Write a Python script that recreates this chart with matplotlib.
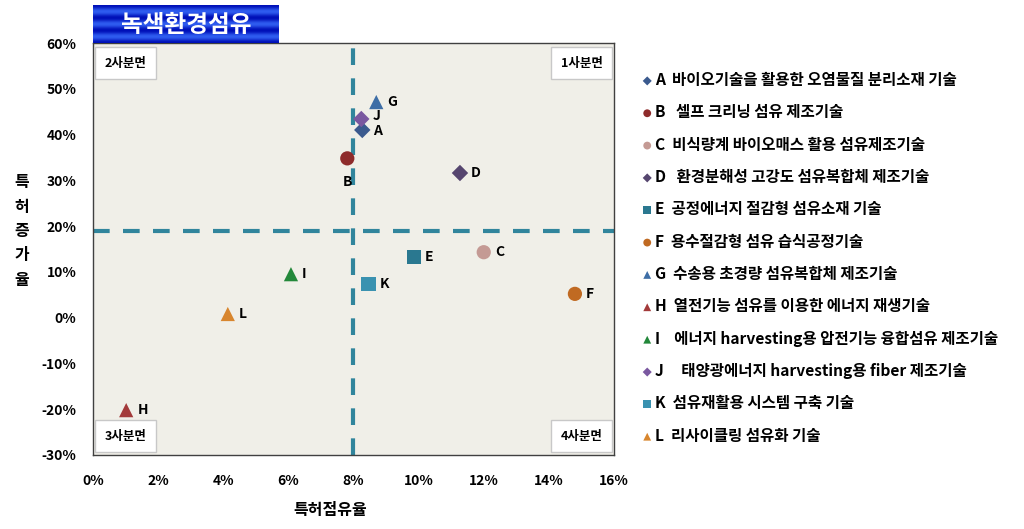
import matplotlib.pyplot as plt
import numpy as np

plt.rcParams['font.family'] = ['Noto Sans CJK KR', 'DejaVu Sans']

codes = ['A', 'B', 'C', 'D', 'E', 'F', 'G', 'H', 'I', 'J', 'K', 'L']
names = ['바이오기술을 활용한 오염물질 분리소재 기술',
         ' 셀프 크리닝 섬유 제조기술',
         '비식량계 바이오매스 활용 섬유제조기술',
         ' 환경분해성 고강도 섬유복합체 제조기술',
         '공정에너지 절감형 섬유소재 기술',
         '용수절감형 섬유 습식공정기술',
         '수송용 초경량 섬유복합체 제조기술',
         '열전기능 섬유를 이용한 에너지 재생기술',
         '  에너지 harvesting용 압전기능 융합섬유 제조기술',
         '   태양광에너지 harvesting용 fiber 제조기술',
         '섬유재활용 시스템 구축 기술',
         '리사이클링 섬유화 기술']
share = [8.27, 7.81, 12.0, 11.27, 9.85, 14.8, 8.7, 1.02, 6.08, 8.24, 8.46, 4.14]
growth = [41.0, 34.8, 14.3, 31.6, 13.2, 5.2, 47.1, -20.2, 9.5, 43.4, 7.3, 0.8]
markers = ['D', 'o', 'o', 'D', 's', 'o', '^', '^', '^', 'D', 's', '^']
colors = ['#3b5a8e', '#8e2b2b', '#c49a94', '#56466f', '#2a7890', '#c06a22',
          '#3e6ea6', '#a33a3a', '#23883a', '#7a58a0', '#3a92b0', '#d8862e']
x_center = 8
y_center = 19

fig = plt.figure(figsize=(10.24, 5.29), dpi=100)
ax = fig.add_axes([0.0908, 0.1399, 0.5088, 0.7788])
ax.set_facecolor('#f0efe8')
for s in ax.spines.values():
    s.set_color('#404040')
    s.set_linewidth(1.0)

ax.axvline(x_center, color='#31859c', lw=3, dashes=(4, 3.2), zorder=1)
ax.axhline(y_center, color='#31859c', lw=3, dashes=(4, 3.2), zorder=1)

handles = []
for i in range(len(codes)):
    sz = 70 if markers[i] == 'D' else 105
    h = ax.scatter(share[i], growth[i], marker=markers[i], s=sz, c=colors[i],
                   edgecolors='none', zorder=3)
    handles.append(h)
    if codes[i] == 'B':
        off, ha = (0, -17), 'center'
    elif codes[i] == 'J':
        off, ha = (8, 2), 'left'
    elif codes[i] == 'A':
        off, ha = (8, -1), 'left'
    else:
        off, ha = (8, 0), 'left'
    ax.annotate(codes[i], (share[i], growth[i]), xytext=off,
                textcoords='offset points', ha=ha, va='center',
                fontsize=10, fontweight='bold')

ax.set_xlim(0, 16)
ax.set_ylim(-30, 60)
ax.set_xticks(np.arange(0, 17, 2))
ax.set_xticklabels([f'{v}%' for v in range(0, 17, 2)])
ax.set_yticks(np.arange(-30, 61, 10))
ax.set_yticklabels([f'{v}%' for v in range(-30, 61, 10)])
ax.tick_params(length=0, labelsize=10)
ax.tick_params(axis='x', pad=14)
ax.tick_params(axis='y', pad=12)
for t in ax.get_xticklabels() + ax.get_yticklabels():
    t.set_fontweight('bold')

box = dict(boxstyle='square,pad=0.75', fc='white', ec='#c8c8c8', lw=1)
ax.text(0.022, 0.967, '2사분면', transform=ax.transAxes, ha='left', va='top',
        fontsize=9, fontweight='bold', bbox=box)
ax.text(0.978, 0.967, '1사분면', transform=ax.transAxes, ha='right', va='top',
        fontsize=9, fontweight='bold', bbox=box)
ax.text(0.022, 0.03, '3사분면', transform=ax.transAxes, ha='left', va='bottom',
        fontsize=9, fontweight='bold', bbox=box)
ax.text(0.978, 0.03, '4사분면', transform=ax.transAxes, ha='right', va='bottom',
        fontsize=9, fontweight='bold', bbox=box)

fig.text(330 / 1024, 1 - 510 / 529, '특허점유율', ha='center', va='center',
         fontsize=11.5, fontweight='bold')
fig.text(22 / 1024, 1 - 231 / 529, '\n'.join('특허증가율'), ha='center',
         va='center', fontsize=11.5, fontweight='bold', linespacing=1.65)

# title box with blue stripes
grad = np.abs(np.sin(np.linspace(0, 3 * np.pi, 80)))[:, None] ** 2
cmap = plt.matplotlib.colors.LinearSegmentedColormap.from_list(
    'b', ['#0010b8', '#2f5cf0'])
tax = fig.add_axes([93 / 1024, 1 - 43 / 529, 186 / 1024, 38 / 529])
tax.imshow(grad, aspect='auto', cmap=cmap, extent=(0, 1, 0, 1))
tax.set_axis_off()
tax.text(0.5, 0.47, '녹색환경섬유', ha='center', va='center', color='white',
         fontsize=17, fontweight='bold', transform=tax.transAxes)

labels = [f'{c}  {n}' for c, n in zip(codes, names)]
leg = fig.legend(handles, labels, loc='upper left',
                 bbox_to_anchor=(627 / 1024, 1 - 58 / 529), frameon=False,
                 prop={'weight': 'bold', 'size': 11.2}, handletextpad=0.1,
                 labelspacing=1.05, markerscale=0.55, handlelength=0.8)

fig.savefig('out.png', dpi=100)
